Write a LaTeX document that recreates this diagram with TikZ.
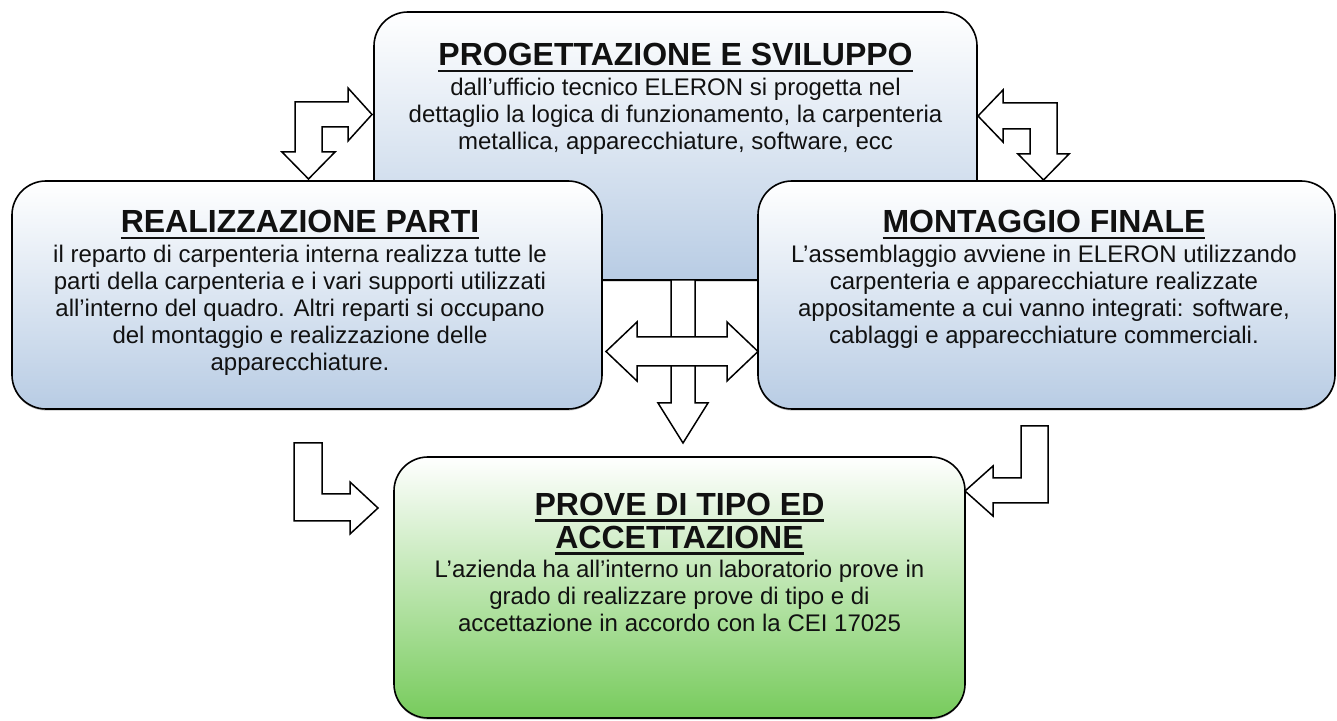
\documentclass[tikz,border=0pt]{standalone}
\usepackage{fontspec}
\setmainfont{Liberation Sans}
\usetikzlibrary{shadows}
\definecolor{bluebot}{RGB}{184,204,228}
\definecolor{greenbot}{RGB}{119,203,92}
\definecolor{txt}{RGB}{17,17,17}
\newsavebox\ttlbox
\newcommand\titleul[1]{\sbox\ttlbox{#1}\rlap{\rule[-6.4pt]{\wd\ttlbox}{2.6pt}}\usebox\ttlbox}
\newcommand\fstrut{\rule{0pt}{20pt}}
\newcommand\tstrut{\rule{0pt}{25pt}}
\tikzset{
  panel/.style={draw=black, line width=1.6pt, rounded corners=34pt,
    drop shadow={shadow xshift=0pt, shadow yshift=-1.6pt, opacity=0.45}},
  bluepanel/.style={panel, top color=white, bottom color=bluebot},
  greenpanel/.style={panel, top color=white, bottom color=greenbot},
  ttl/.style={anchor=base, inner sep=0pt, text=txt, font=\fontsize{32}{33}\selectfont\bfseries},
  ttlblock/.style={anchor=north, inner sep=0pt, align=center, text=txt, font=\fontsize{32}{33}\selectfont\bfseries},
  bodytext/.style={anchor=north, inner sep=0pt, align=center, text=txt, font=\fontsize{24}{27}\selectfont},
  blockarrow/.style={draw=black, fill=white, line width=1.5pt, line join=miter}
}
\begin{document}
\begin{tikzpicture}[x=1pt, y=1pt]
\useasboundingbox (0,0) rectangle (1337,720);

% panels
\node[bluepanel, minimum width=603pt, minimum height=268pt] (top) at (675.5,574) {};
\node[bluepanel, minimum width=590pt, minimum height=228pt] (left) at (307,425) {};
\node[bluepanel, minimum width=577pt, minimum height=228pt] (right) at (1046.5,425) {};
\node[greenpanel, minimum width=571pt, minimum height=261pt] (bottom) at (679.5,132.5) {};

% texts
\node[ttl] (toptitle) at (675.5,654) {\titleul{PROGETTAZIONE E SVILUPPO}};
\node[bodytext] (topbody) at (675.5,645) {\fstrut dall’ufficio tecnico ELERON si progetta nel\\
dettaglio la logica di funzionamento, la carpenteria\\
metallica, apparecchiature, software, ecc};

\node[ttl] (lefttitle) at (300,487) {\titleul{REALIZZAZIONE PARTI}};
\node[bodytext] (leftbody) at (300,478) {\fstrut il reparto di carpenteria interna realizza tutte le\\
parti della carpenteria e i vari supporti utilizzati\\
all’interno del quadro. Altri reparti si occupano\\
del montaggio e realizzazione delle\\
apparecchiature.};

\node[ttl] (righttitle) at (1044,487) {\titleul{MONTAGGIO FINALE}};
\node[bodytext] (rightbody) at (1044,478) {\fstrut L’assemblaggio avviene in ELERON utilizzando\\
carpenteria e apparecchiature realizzate\\
appositamente a cui vanno integrati: software,\\
cablaggi e apparecchiature commerciali.};

\node[ttlblock] (bottitle) at (679.5,230) {\tstrut\titleul{PROVE DI TIPO ED}\\\titleul{ACCETTAZIONE}};
\node[bodytext] (botbody) at (679.5,163) {\fstrut L’azienda ha all’interno un laboratorio prove in\\
grado di realizzare prove di tipo e di\\
accettazione in accordo con la CEI 17025};

% block arrows
\draw[blockarrow] (372,605.5) -- (348,632) -- (348,618) -- (295,618) -- (295,568) -- (282,568)
  -- (308.5,541) -- (335,568) -- (322,568) -- (322,593) -- (348,593) -- (348,579) -- cycle;

\draw[blockarrow] (978,604) -- (1003,630) -- (1003,617) -- (1057,617) -- (1057,566) -- (1069,566)
  -- (1043.5,540) -- (1018,566) -- (1030,566) -- (1030,591) -- (1003,591) -- (1003,578) -- cycle;

% centre: down arrow, then double arrow over it
\draw[blockarrow] (671,440) -- (671,317) -- (658,317) -- (683,277) -- (708,317) -- (695,317)
  -- (695,440) -- cycle;
\draw[blockarrow] (606,368.5) -- (637,398) -- (637,383) -- (727,383) -- (727,398) -- (758,368.5)
  -- (727,339) -- (727,354) -- (637,354) -- (637,339) -- cycle;

\draw[blockarrow] (294,277) -- (322,277) -- (322,226) -- (350,226) -- (350,238) -- (378,212)
  -- (350,186) -- (350,199) -- (294,199) -- cycle;

\draw[blockarrow] (1021,294) -- (1048,294) -- (1048,217) -- (993,217) -- (993,204) -- (965,229)
  -- (993,254) -- (993,242) -- (1021,242) -- cycle;
\end{tikzpicture}
\end{document}
